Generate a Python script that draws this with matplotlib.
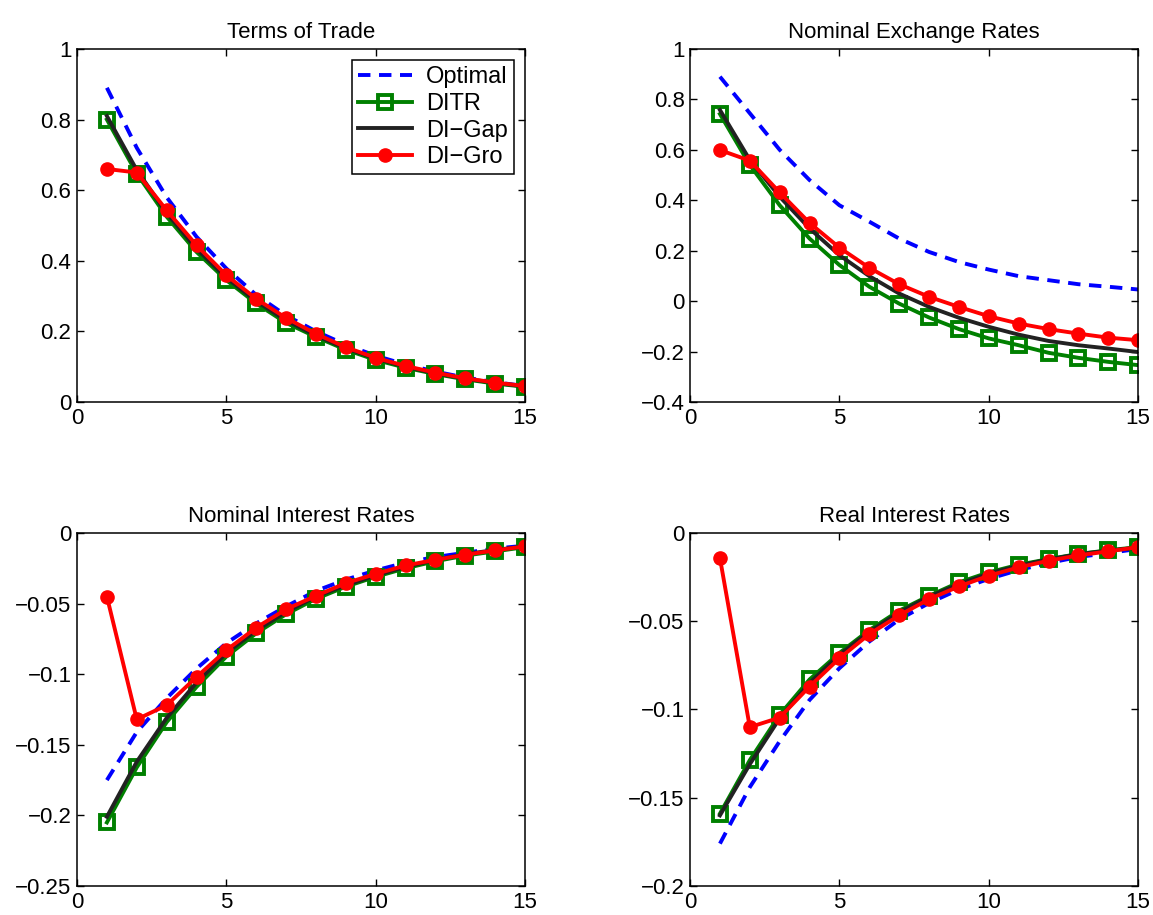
import numpy as np
import matplotlib
matplotlib.use('Agg')
import matplotlib.pyplot as plt

plt.rcParams['font.family'] = ['Liberation Sans', 'DejaVu Sans']

t = np.arange(1, 16)
labels = ['Optimal', 'DITR', 'DI\u2212Gap', 'DI\u2212Gro']

# Terms of Trade
tot_opt = [0.89, 0.72, 0.58, 0.468, 0.378, 0.303, 0.245, 0.20, 0.162, 0.131, 0.106, 0.086, 0.069, 0.056, 0.045]
tot_ditr = [0.80, 0.647, 0.525, 0.425, 0.345, 0.279, 0.224, 0.184, 0.148, 0.119, 0.097, 0.079, 0.064, 0.052, 0.043]
tot_gap = [0.81, 0.657, 0.535, 0.434, 0.352, 0.285, 0.231, 0.188, 0.152, 0.123, 0.100, 0.081, 0.066, 0.054, 0.044]
tot_gro = [0.66, 0.65, 0.543, 0.444, 0.359, 0.292, 0.238, 0.193, 0.155, 0.125, 0.102, 0.083, 0.067, 0.055, 0.045]

# Nominal Exchange Rates
ner_opt = [0.89, 0.745, 0.60, 0.48, 0.38, 0.315, 0.248, 0.195, 0.155, 0.125, 0.099, 0.083, 0.067, 0.057, 0.046]
ner_ditr = [0.742, 0.54, 0.38, 0.248, 0.143, 0.057, -0.01, -0.065, -0.111, -0.148, -0.175, -0.205, -0.225, -0.241, -0.254]
ner_gap = [0.758, 0.56, 0.414, 0.288, 0.182, 0.099, 0.03, -0.023, -0.066, -0.102, -0.133, -0.158, -0.175, -0.188, -0.202]
ner_gro = [0.599, 0.557, 0.431, 0.31, 0.212, 0.132, 0.067, 0.017, -0.023, -0.06, -0.089, -0.111, -0.129, -0.145, -0.155]

# Nominal Interest Rates
nir_opt = [-0.175, -0.141, -0.117, -0.096, -0.078, -0.064, -0.052, -0.041, -0.033, -0.0265, -0.021, -0.017, -0.014, -0.011, -0.009]
nir_ditr = [-0.205, -0.166, -0.134, -0.109, -0.0875, -0.071, -0.0575, -0.0466, -0.038, -0.031, -0.025, -0.020, -0.016, -0.013, -0.010]
nir_gap = [-0.201, -0.162, -0.131, -0.106, -0.085, -0.069, -0.056, -0.045, -0.037, -0.030, -0.024, -0.019, -0.015, -0.012, -0.0095]
nir_gro = [-0.045, -0.132, -0.122, -0.102, -0.083, -0.067, -0.054, -0.0445, -0.0355, -0.029, -0.023, -0.019, -0.0154, -0.0123, -0.0095]

# Real Interest Rates
rir_opt = [-0.176, -0.144, -0.118, -0.0946, -0.0766, -0.0615, -0.049, -0.0397, -0.032, -0.026, -0.021, -0.017, -0.0136, -0.0114, -0.009]
rir_ditr = [-0.159, -0.1287, -0.103, -0.083, -0.068, -0.055, -0.044, -0.0356, -0.028, -0.0223, -0.018, -0.0148, -0.0119, -0.0098, -0.008]
rir_gap = [-0.160, -0.131, -0.105, -0.085, -0.069, -0.056, -0.045, -0.036, -0.029, -0.023, -0.0185, -0.015, -0.012, -0.010, -0.0083]
rir_gro = [-0.0142, -0.11, -0.1046, -0.087, -0.071, -0.0573, -0.0467, -0.0375, -0.0303, -0.0242, -0.0195, -0.0157, -0.0127, -0.0104, -0.008]

panels = [
    ('Terms of Trade', [tot_opt, tot_ditr, tot_gap, tot_gro], (0, 1), [0, 0.2, 0.4, 0.6, 0.8, 1]),
    ('Nominal Exchange Rates', [ner_opt, ner_ditr, ner_gap, ner_gro], (-0.4, 1), [-0.4, -0.2, 0, 0.2, 0.4, 0.6, 0.8, 1]),
    ('Nominal Interest Rates', [nir_opt, nir_ditr, nir_gap, nir_gro], (-0.25, 0), [-0.25, -0.2, -0.15, -0.1, -0.05, 0]),
    ('Real Interest Rates', [rir_opt, rir_ditr, rir_gap, rir_gro], (-0.2, 0), [-0.2, -0.15, -0.1, -0.05, 0]),
]

positions = [
    [0.0668, 0.5607, 0.3886, 0.3858],
    [0.5985, 0.5607, 0.3886, 0.3858],
    [0.0668, 0.0317, 0.3886, 0.3858],
    [0.5985, 0.0317, 0.3886, 0.3858],
]

def fmt(v):
    return ('%g' % v).replace('-', '\u2212')

fig = plt.figure(figsize=(11.53, 9.15), dpi=100)
lw = 2.8
for (title, series, ylim, yticks), pos in zip(panels, positions):
    ax = fig.add_axes(pos)
    opt, ditr, gap, gro = series
    ax.plot(t, opt, color='#0000ff', lw=lw, dashes=(3.2, 2.2), label=labels[0])
    ax.plot(t, ditr, color='#008000', lw=lw, marker='s', ms=10.5, mfc='none',
            mec='#008000', mew=2.8, label=labels[1])
    ax.plot(t, gap, color='#222222', lw=lw, label=labels[2])
    ax.plot(t, gro, color='#ff0000', lw=lw, marker='o', ms=9.5, mfc='#ff0000',
            mec='#ff0000', label=labels[3])
    ax.set_xlim(0, 15)
    ax.set_ylim(*ylim)
    ax.set_xticks([0, 5, 10, 15])
    ax.set_yticks(yticks)
    ax.set_yticklabels([fmt(v) for v in yticks])
    ax.tick_params(direction='in', top=True, right=True, labelsize=16, length=5, width=1, pad=4)
    for sp in ax.spines.values():
        sp.set_linewidth(1.1)
    ax.set_title(title, fontsize=16, pad=8)
    if title == 'Terms of Trade':
        leg = ax.legend(loc='upper right', bbox_to_anchor=(0.975, 0.968), fontsize=17,
                        fancybox=False, framealpha=1, edgecolor='black',
                        handlelength=2.3, borderpad=0.25, labelspacing=0.2,
                        handletextpad=0.6, borderaxespad=0)
        leg.get_frame().set_linewidth(1.1)

fig.savefig('out.png', dpi=100)
